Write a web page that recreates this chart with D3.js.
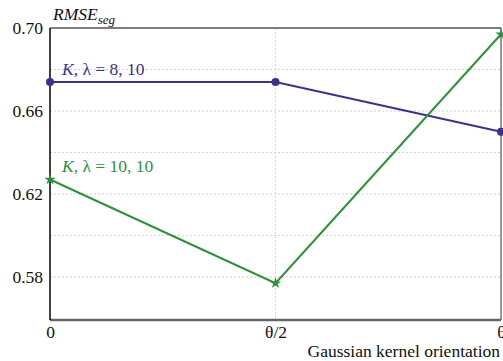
<!DOCTYPE html>
<html>
<head>
<meta charset="utf-8">
<script src="https://cdn.jsdelivr.net/npm/d3@7"></script>
<style>
  body { margin: 0; background: #fff; }
</style>
</head>
<body>
<div class="canvas"></div>
<script>
const WIDTH = 503;
const HEIGHT = 361;
const margin = { top: 28, right: 2, bottom: 41, left: 50 };
const FONT = 'Liberation Serif';

const categories = ['0', 'θ/2', 'θ'];
const blueValues = [0.674, 0.674, 0.650];
const greenValues = [0.627, 0.577, 0.697];
const yTicks = [0.58, 0.62, 0.66, 0.70];
const yGrid = [0.58, 0.60, 0.62, 0.64, 0.66, 0.68];

const graphWidth = WIDTH - margin.left - margin.right;
const graphHeight = HEIGHT - margin.top - margin.bottom;

const svg = d3.select('.canvas')
  .append('svg')
    .attr('width', WIDTH)
    .attr('height', HEIGHT)
    .attr('font-family', FONT);

const g = svg.append('g')
  .attr('transform', `translate(${margin.left},${margin.top})`);

const x = d3.scalePoint()
  .domain(categories)
  .range([0, graphWidth]);

const y = d3.scaleLinear()
  .domain([0.5593, 0.70])
  .range([graphHeight, 0]);

// dotted grid
g.selectAll('.hgrid')
  .data(yGrid)
  .enter().append('line')
    .attr('x1', 0).attr('x2', graphWidth)
    .attr('y1', d => y(d)).attr('y2', d => y(d))
    .attr('stroke', '#d0d0d0')
    .attr('stroke-dasharray', '2,2');

g.append('line')
  .attr('x1', x('θ/2')).attr('x2', x('θ/2'))
  .attr('y1', 0).attr('y2', graphHeight)
  .attr('stroke', '#d8d8d8')
  .attr('stroke-dasharray', '2,2');

// frame
g.append('line').attr('x1', 0).attr('x2', graphWidth).attr('y1', 0).attr('y2', 0)
  .attr('stroke', '#000').attr('stroke-width', 1.2);
g.append('line').attr('x1', graphWidth).attr('x2', graphWidth).attr('y1', 0).attr('y2', graphHeight)
  .attr('stroke', '#555').attr('stroke-width', 1.2);
g.append('line').attr('x1', 0).attr('x2', graphWidth).attr('y1', graphHeight).attr('y2', graphHeight)
  .attr('stroke', '#666').attr('stroke-width', 2.5);
g.append('line').attr('x1', 0).attr('x2', 0).attr('y1', 0).attr('y2', graphHeight)
  .attr('stroke', '#000').attr('stroke-width', 1.5);

// y axis labels
const yAxis = d3.axisLeft(y).tickValues(yTicks).tickSize(0).tickPadding(7)
  .tickFormat(d3.format('.2f'));
const yAxisGroup = g.append('g').call(yAxis).attr('font-family', FONT);
yAxisGroup.select('.domain').remove();
yAxisGroup.selectAll('text')
  .attr('font-size', 17.5)
  .attr('fill', '#111');

// x axis labels
const xAxis = d3.axisBottom(x).tickSize(0).tickPadding(6);
const xAxisGroup = g.append('g')
  .attr('transform', `translate(0,${graphHeight})`)
  .call(xAxis)
  .attr('font-family', FONT);
xAxisGroup.select('.domain').remove();
xAxisGroup.selectAll('text')
  .attr('font-size', 17.5)
  .attr('fill', '#111');

// titles
const yTitle = svg.append('text')
  .attr('x', 53).attr('y', 20)
  .attr('font-size', 17.5)
  .attr('font-style', 'italic')
  .attr('fill', '#111');
yTitle.append('tspan').text('RMSE');
yTitle.append('tspan').attr('font-size', 13).attr('dy', 4).text('seg');

svg.append('text')
  .attr('x', 500).attr('y', 357)
  .attr('text-anchor', 'end')
  .attr('font-size', 17.5)
  .attr('fill', '#111')
  .text('Gaussian kernel orientation');

// series
const series = [
  { name: 'blue', values: blueValues, color: '#3d2e96', label: '8, 10', labelY: 0.6775 },
  { name: 'green', values: greenValues, color: '#2a9338', label: '10, 10', labelY: 0.6305 }
];

const line = d3.line()
  .x((d, i) => x(categories[i]))
  .y(d => y(d));

series.forEach(s => {
  g.append('path')
    .datum(s.values)
    .attr('fill', 'none')
    .attr('stroke', s.color)
    .attr('stroke-width', 2)
    .attr('d', line);

  if (s.name === 'blue') {
    g.selectAll('.pt-' + s.name)
      .data(s.values)
      .enter().append('circle')
        .attr('cx', (d, i) => x(categories[i]))
        .attr('cy', d => y(d))
        .attr('r', 4)
        .attr('fill', s.color);
  } else {
    g.selectAll('.pt-' + s.name)
      .data(s.values)
      .enter().append('path')
        .attr('transform', (d, i) => `translate(${x(categories[i])},${y(d)})`)
        .attr('d', d3.symbol(d3.symbolStar, 40))
        .attr('fill', s.color);
  }

  const t = g.append('text')
    .attr('x', 12)
    .attr('y', y(s.labelY))
    .attr('font-size', 17.5)
    .attr('fill', s.color);
  t.append('tspan').attr('font-style', 'italic').text('K');
  t.append('tspan').text(', λ = ' + s.label);
});
</script>
</body>
</html>
